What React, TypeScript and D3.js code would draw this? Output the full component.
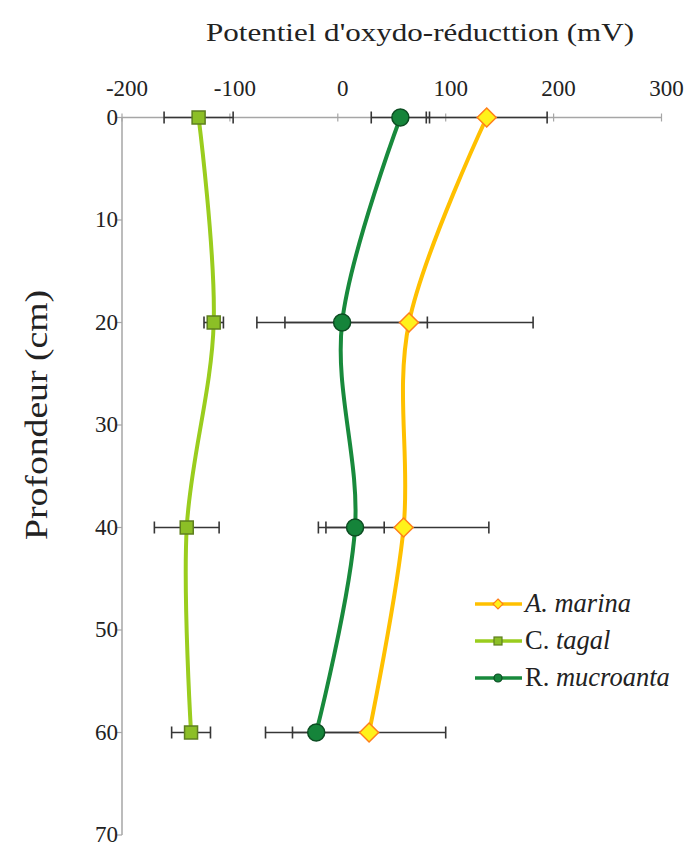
import React from 'react';
import * as d3 from 'd3';

const depths = [0, 20, 40, 60];
const seriesNames = ['A. marina', 'C. tagal', 'R. mucroanta'];
const aMarina = [138, 66, 61, 29];
const aMarinaErr = [56, 115, 79, 71];
const cTagal = [-129, -115, -140, -136];
const cTagalErr = [32, 9, 30, 18];
const rMucro = [58, 4, 16, -20];
const rMucroErr = [27, 79, 27, 47];
const xTicks = [-200, -100, 0, 100, 200, 300];
const yTicks = [0, 10, 20, 30, 40, 50, 60, 70];

const W = 696;
const H = 847;
const FONT = "'Liberation Serif', 'Times New Roman', serif";

type Series = {
  name: string;
  values: number[];
  errs: number[];
  line: string;
  fill: string;
  stroke: string;
  marker: 'diamond' | 'square' | 'circle';
};

const series: Series[] = [
  { name: seriesNames[0], values: aMarina, errs: aMarinaErr, line: '#FFC000', fill: '#FFF21A', stroke: '#FF7F1A', marker: 'diamond' },
  { name: seriesNames[1], values: cTagal, errs: cTagalErr, line: '#9ACD1E', fill: '#8CBF26', stroke: '#5E7F1F', marker: 'square' },
  { name: seriesNames[2], values: rMucro, errs: rMucroErr, line: '#188A3C', fill: '#15843A', stroke: '#0C4D22', marker: 'circle' },
];

const txt = { fontFamily: FONT };

function Marker({ kind, x, y, s, fill, stroke, sw }: { kind: string; x: number; y: number; s: number; fill: string; stroke: string; sw: number }) {
  if (kind === 'diamond') {
    const h = s / 2;
    const d = `M${x},${y - h}L${x + h},${y}L${x},${y + h}L${x - h},${y}Z`;
    return <path d={d} fill={fill} stroke={stroke} strokeWidth={sw} />;
  }
  if (kind === 'square') {
    return <rect x={x - s / 2} y={y - s / 2} width={s} height={s} fill={fill} stroke={stroke} strokeWidth={sw} />;
  }
  return <circle cx={x} cy={y} r={s / 2} fill={fill} stroke={stroke} strokeWidth={sw} />;
}

export default function App() {
  const x = d3.scaleLinear().domain([-200, 300]).range([122, 661.5]);
  const y = d3.scaleLinear().domain([0, 70]).range([117.5, 835]);
  const line = d3
    .line<number>()
    .x((d) => x(d))
    .y((_, i) => y(depths[i]))
    .curve(d3.curveCardinal.tension(0));

  const axisColor = '#a6a6a6';
  const errColor = '#363636';
  const cap = 6;

  const legendY = [604, 641, 678];
  const markerSizes: Record<string, number> = { diamond: 19, square: 13, circle: 17 };
  const legendSizes: Record<string, number> = { diamond: 10, square: 8, circle: 8 };

  return (
    <svg width={W} height={H} style={{ position: 'absolute', left: 0, top: 0, background: '#fff', fontFamily: FONT }}>
      <rect width={W} height={H} fill="#fff" />
      {/* Title */}
      <text x={420} y={41} textAnchor="middle" fontSize={26} fill="#222" style={txt} textLength={428} lengthAdjust="spacingAndGlyphs">
        Potentiel d'oxydo-réducttion (mV)
      </text>
      {/* Y axis label */}
      <text transform={`translate(47,415) rotate(-90)`} textAnchor="middle" fontSize={31} fill="#222" style={txt} textLength={250} lengthAdjust="spacingAndGlyphs">
        Profondeur (cm)
      </text>

      {/* X axis (top) */}
      <line x1={x(-200)} x2={x(300)} y1={y(0)} y2={y(0)} stroke={axisColor} strokeWidth={1.5} />
      {xTicks.map((t) => (
        <g key={t}>
          <line x1={x(t)} x2={x(t)} y1={y(0) - 4} y2={y(0) + 4} stroke={axisColor} strokeWidth={1.2} />
          <text x={x(t) + 5} y={96} textAnchor="middle" fontSize={23} fill="#222" style={txt}>
            {t < 0 ? '-' + Math.abs(t) : String(t)}
          </text>
        </g>
      ))}

      {/* Y axis (left) */}
      <line x1={x(-200)} x2={x(-200)} y1={y(0)} y2={y(70)} stroke={axisColor} strokeWidth={1.5} />
      {yTicks.map((t) => (
        <g key={t}>
          <line x1={x(-200) - 5} x2={x(-200)} y1={y(t)} y2={y(t)} stroke={axisColor} strokeWidth={1.2} />
          <text x={x(-200) - 4} y={y(t) + 7} textAnchor="end" fontSize={23} fill="#222" style={txt}>
            {t}
          </text>
        </g>
      ))}

      {/* Error bars */}
      {series.map((s) =>
        s.values.map((v, i) => {
          const yy = y(depths[i]);
          const x0 = x(v - s.errs[i]);
          const x1 = x(v + s.errs[i]);
          return (
            <g key={s.name + i}>
              <line x1={x0} x2={x1} y1={yy} y2={yy} stroke={errColor} strokeWidth={1.6} />
              <line x1={x0} x2={x0} y1={yy - cap} y2={yy + cap} stroke={errColor} strokeWidth={1.6} />
              <line x1={x1} x2={x1} y1={yy - cap} y2={yy + cap} stroke={errColor} strokeWidth={1.6} />
            </g>
          );
        })
      )}

      {/* Lines */}
      {series.map((s) => (
        <path key={s.name} d={line(s.values) || ''} fill="none" stroke={s.line} strokeWidth={4} strokeLinecap="round" />
      ))}

      {/* Markers */}
      {series.map((s) =>
        s.values.map((v, i) => (
          <Marker key={s.name + 'm' + i} kind={s.marker} x={x(v)} y={y(depths[i])} s={markerSizes[s.marker]} fill={s.fill} stroke={s.stroke} sw={1.5} />
        ))
      )}

      {/* Legend */}
      {series.map((s, i) => {
        const [abbr, rest] = s.name.split(' ');
        const ly = legendY[i];
        return (
          <g key={'lg' + s.name}>
            <line x1={475} x2={522} y1={ly} y2={ly} stroke={s.line} strokeWidth={3.5} />
            <Marker kind={s.marker} x={498} y={ly} s={legendSizes[s.marker]} fill={s.fill} stroke={s.stroke} sw={1.2} />
            <text x={525} y={ly + 8} fontSize={26.5} fill="#222" style={txt}>
              <tspan fontStyle={i === 0 ? 'italic' : 'normal'}>{abbr} </tspan>
              <tspan fontStyle="italic">{rest}</tspan>
            </text>
          </g>
        );
      })}
    </svg>
  );
}
